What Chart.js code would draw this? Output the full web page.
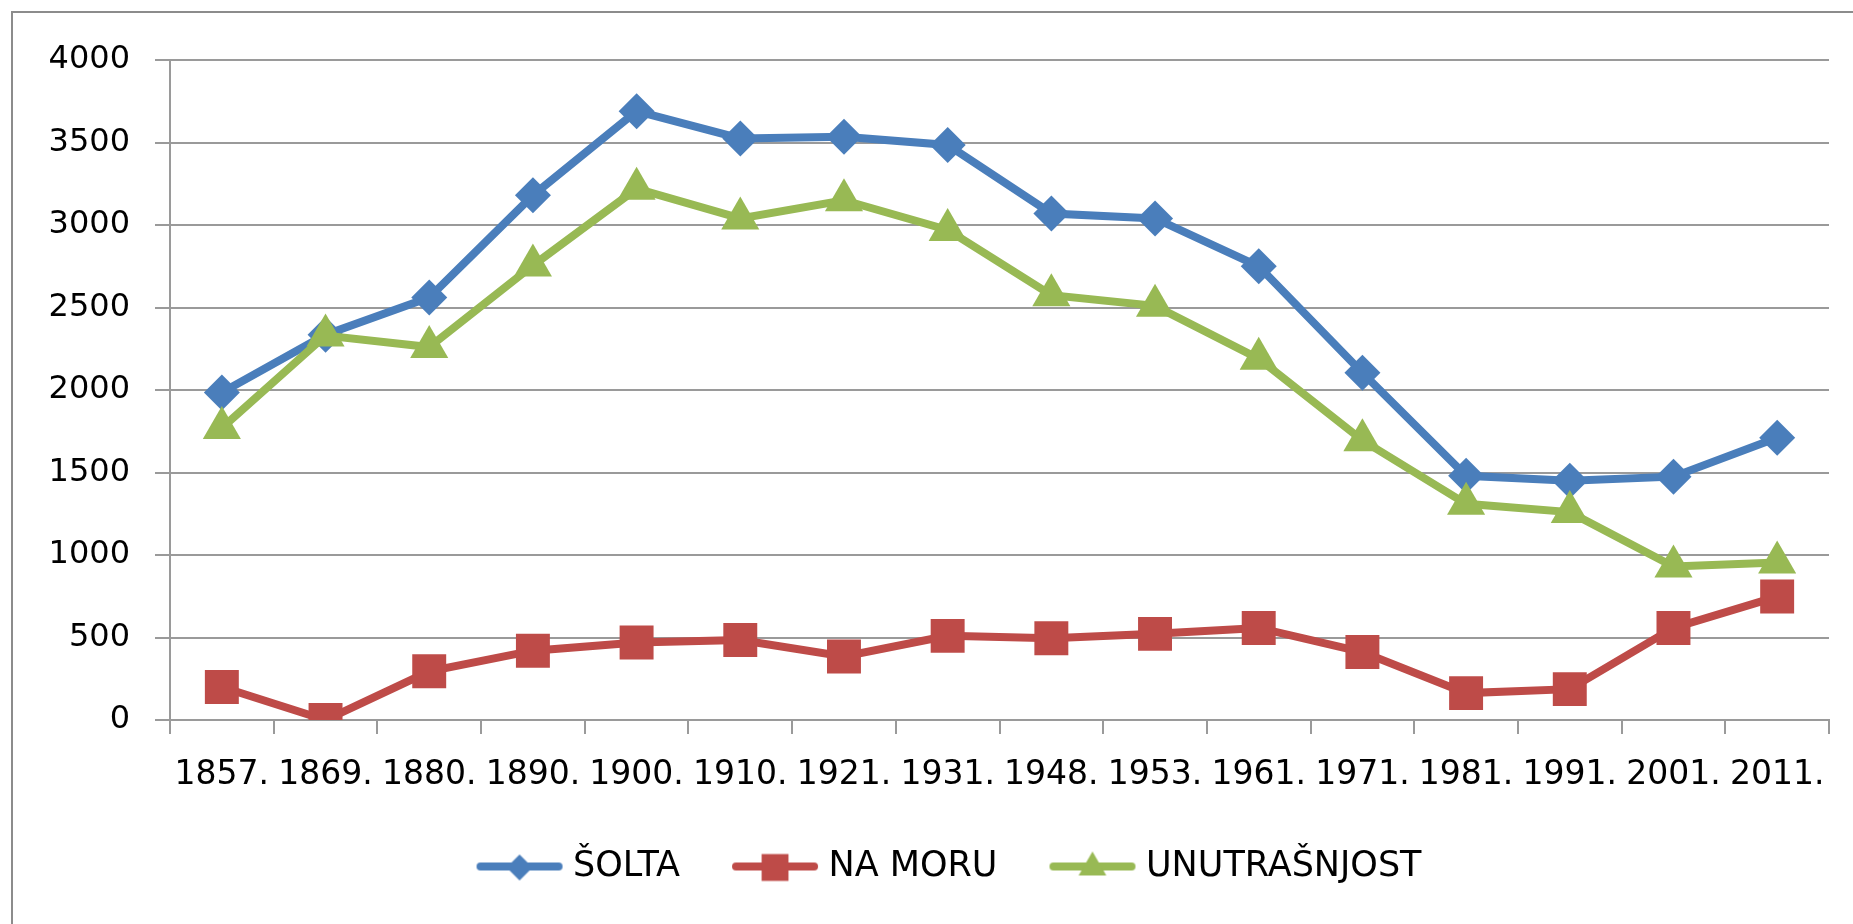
<!DOCTYPE html>
<html>
<head>
<meta charset="utf-8">
<title>Šolta</title>
<script src="https://cdn.jsdelivr.net/npm/chart.js@4.4.1/dist/chart.umd.min.js"></script>
<style>
  html, body { margin: 0; padding: 0; background: #fff; overflow: hidden; }
  #wrap { position: relative; width: 1853px; height: 924px; overflow: hidden; }
  #frame {
    position: absolute; left: 11px; top: 11px; width: 2000px; height: 2000px;
    border: 2px solid #8c8c8c; pointer-events: none;
  }
  #chart { position: absolute; left: 0; top: 0; }
</style>
</head>
<body>
<div id="wrap">
  <canvas id="chart" width="1853" height="924"></canvas>
  <div id="frame"></div>
</div>
<script>
const years = ["1857.", "1869.", "1880.", "1890.", "1900.", "1910.", "1921.", "1931.",
               "1948.", "1953.", "1961.", "1971.", "1981.", "1991.", "2001.", "2011."];
const solta = [1985, 2335, 2560, 3180, 3690, 3525, 3535, 3485, 3070, 3040, 2750, 2105, 1480, 1450, 1475, 1710];
const naMoru = [200, 0, 295, 420, 470, 485, 385, 510, 495, 522, 558, 412, 163, 187, 558, 748];
const unutrasnjost = [1770, 2330, 2260, 2755, 3220, 3040, 3150, 2970, 2575, 2510, 2190, 1695, 1310, 1260, 930, 955];
const seriesNames = ["ŠOLTA", "NA MORU", "UNUTRAŠNJOST"];
const yMin = 0;
const yMax = 4000;
const yStep = 500;

document.addEventListener("DOMContentLoaded", function () {
  const FONT = "'DejaVu Sans', sans-serif";
  const GRID = "#9a9a9a";
  const colors = ["#4A7EBB", "#BE4B48", "#98B954"];
  const styles = ["rectRot", "rect", "triangle"];
  const radii = [18, 24, 22];
  const legendRadii = [13, 19, 16];

  ////////////////////////////////
  // Legend icon: short line with the marker in the middle
  ////////////////////////////////
  function legendIcon(i) {
    const c = document.createElement("canvas");
    c.width = 141;
    c.height = 40;
    const ctx = c.getContext("2d");
    ctx.strokeStyle = colors[i];
    ctx.fillStyle = colors[i];
    ctx.lineWidth = 8;
    ctx.lineCap = "round";
    ctx.beginPath();
    ctx.moveTo(56, 20);
    ctx.lineTo(134, 20);
    ctx.stroke();
    Chart.helpers.drawPoint(ctx, { pointStyle: styles[i], radius: legendRadii[i], rotation: 0, borderWidth: 0 }, 95, 21);
    return c;
  }
  const icons = [0, 1, 2].map(legendIcon);

  const values = [solta, naMoru, unutrasnjost];
  const datasets = values.map(function (v, i) {
    return {
      label: seriesNames[i],
      data: v,
      borderColor: colors[i],
      backgroundColor: colors[i],
      borderWidth: 8,
      pointStyle: styles[i],
      pointRadius: radii[i],
      pointBorderWidth: 0,
      pointBackgroundColor: colors[i],
      tension: 0,
      order: 2 - i,
    };
  });

  new Chart(document.getElementById("chart"), {
    type: "line",
    data: { labels: years, datasets: datasets },
    options: {
      responsive: false,
      animation: false,
      devicePixelRatio: 1,
      layout: { padding: { top: 60, right: 21, left: 24, bottom: 30 } },
      plugins: {
        tooltip: { enabled: false },
        legend: {
          position: "bottom",
          labels: {
            usePointStyle: true,
            pointStyleWidth: 121,
            padding: 10,
            color: "#000",
            font: { family: FONT, size: 35 },
            generateLabels: function (chart) {
              return chart.data.datasets.map(function (ds, i) {
                return {
                  text: ds.label,
                  pointStyle: icons[i],
                  fillStyle: colors[i],
                  strokeStyle: colors[i],
                  lineWidth: 0,
                  hidden: false,
                  datasetIndex: i,
                };
              });
            },
          },
        },
      },
      scales: {
        x: {
          offset: true,
          afterFit: function (s) { s.height = 119; },
          grid: {
            offset: true,
            drawOnChartArea: false,
            drawTicks: true,
            tickLength: 14,
            color: GRID,
            lineWidth: 2,
          },
          border: { display: true, color: GRID, width: 2 },
          ticks: {
            color: "#000",
            padding: 22,
            maxRotation: 0,
            autoSkip: false,
            font: { family: FONT, size: 33 },
          },
        },
        y: {
          min: yMin,
          max: yMax,
          afterFit: function (s) { s.width = 146; },
          grid: {
            color: GRID,
            lineWidth: 2,
            drawTicks: true,
            tickLength: 15,
          },
          border: { display: true, color: GRID, width: 2 },
          ticks: {
            stepSize: yStep,
            color: "#000",
            padding: 25,
            font: { family: FONT, size: 32 },
            callback: function (value) { return String(value); },
          },
        },
      },
    },
  });
});
</script>
</body>
</html>
